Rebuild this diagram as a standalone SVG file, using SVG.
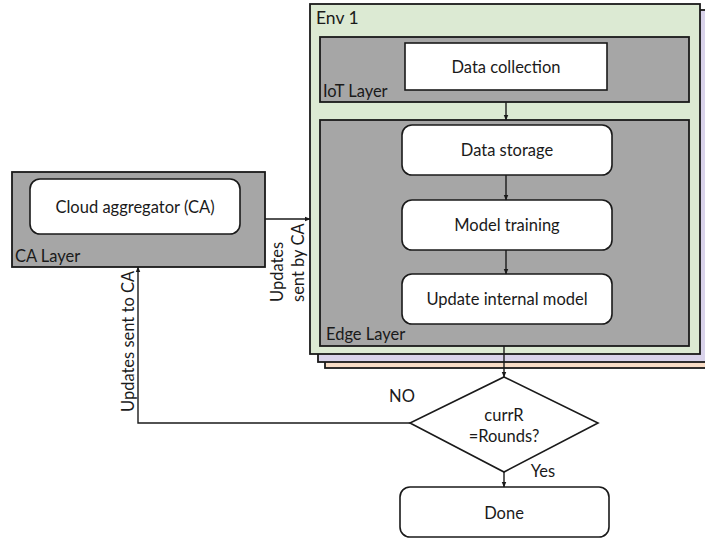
<svg xmlns="http://www.w3.org/2000/svg" width="705" height="540" viewBox="0 0 705 540">
  <style>
    .t { font-family: Lato, "Open Sans", "Liberation Sans", sans-serif; fill: #1a1a1a; font-size: 16.5px; }
    .box { fill: #ffffff; stroke: #1a1a1a; stroke-width: 1.6; }
    .layer { fill: #a6a6a6; stroke: #1a1a1a; stroke-width: 1.8; }
    .env { stroke: #1a1a1a; stroke-width: 1.8; }
    .edge { fill: none; stroke: #1a1a1a; stroke-width: 1.4; }
  </style>
  <defs>
    <marker id="arrow" viewBox="0 0 10 10" refX="9" refY="5" markerWidth="6" markerHeight="6" orient="auto" markerUnits="userSpaceOnUse">
      <path d="M0,1 L10,5 L0,9 z" fill="#1a1a1a"/>
    </marker>
  </defs>
  <rect width="705" height="540" fill="#ffffff"/>

  <!-- stacked environments -->
  <g id="env-stack">
    <rect class="env" x="325" y="16" width="395" height="352" fill="#f8dcc6"/>
    <rect class="env" x="318" y="10" width="395" height="352" fill="#d9d3ea"/>
  </g>
  <g id="env1">
    <rect class="env" x="310" y="4" width="390" height="350" fill="#dcead3"/>
    <text class="t" x="316" y="24" style="font-size:17.5px">Env 1</text>
  </g>

  <g id="iot-layer">
    <rect class="layer" x="320" y="37" width="369" height="65"/>
    <text class="t" x="323" y="97">IoT Layer</text>
  </g>
  <g id="data-collection">
    <rect class="box" x="405" y="43" width="202" height="47"/>
    <text class="t" x="506" y="73" text-anchor="middle">Data collection</text>
  </g>

  <g id="edge-layer">
    <rect class="layer" x="320" y="120" width="369" height="226"/>
    <text class="t" x="326" y="340">Edge Layer</text>
  </g>
  <g id="data-storage">
    <rect class="box" x="402" y="125" width="210" height="50" rx="10"/>
    <text class="t" x="507" y="156" text-anchor="middle">Data storage</text>
  </g>
  <g id="model-training">
    <rect class="box" x="402" y="200" width="210" height="50" rx="10"/>
    <text class="t" x="507" y="231" text-anchor="middle">Model training</text>
  </g>
  <g id="update-model">
    <rect class="box" x="402" y="274" width="210" height="50" rx="10"/>
    <text class="t" x="507" y="305" text-anchor="middle">Update internal model</text>
  </g>

  <g id="ca-layer">
    <rect class="layer" x="12" y="172" width="253" height="95"/>
    <text class="t" x="15" y="262">CA Layer</text>
  </g>
  <g id="cloud-aggregator">
    <rect class="box" x="30" y="179" width="210" height="55" rx="10"/>
    <text class="t" x="135" y="213" text-anchor="middle">Cloud aggregator (CA)</text>
  </g>

  <g id="decision">
    <polygon points="504,377 598,423 504,472 410,423" fill="#ffffff" stroke="#1a1a1a" stroke-width="1.6"/>
    <text class="t" x="504" y="421" text-anchor="middle">currR</text>
    <text class="t" x="504" y="442" text-anchor="middle">=Rounds?</text>
  </g>

  <g id="done">
    <rect class="box" x="400" y="487" width="209" height="50" rx="10"/>
    <text class="t" x="504" y="519" text-anchor="middle">Done</text>
  </g>

  <!-- connectors -->
  <g id="connectors">
    <line class="edge" x1="506" y1="102" x2="506" y2="120" marker-end="url(#arrow)"/>
    <line class="edge" x1="506" y1="175" x2="506" y2="200" marker-end="url(#arrow)"/>
    <line class="edge" x1="506" y1="250" x2="506" y2="274" marker-end="url(#arrow)"/>
    <line class="edge" x1="504" y1="346" x2="504" y2="377" marker-end="url(#arrow)"/>
    <line class="edge" x1="504" y1="472" x2="504" y2="487" marker-end="url(#arrow)"/>
    <line class="edge" x1="265" y1="219" x2="310" y2="219" marker-end="url(#arrow)"/>
    <polyline class="edge" points="410,423 138,423 138,267" marker-end="url(#arrow)"/>
  </g>

  <!-- connector labels -->
  <g id="labels">
    <text class="t" transform="translate(283,302) rotate(-90)">Updates</text>
    <text class="t" transform="translate(304,302) rotate(-90)">sent by CA</text>
    <text class="t" transform="translate(134,412) rotate(-90)">Updates sent to CA</text>
    <text class="t" x="402" y="402" text-anchor="middle">NO</text>
    <text class="t" x="543" y="477" text-anchor="middle">Yes</text>
  </g>
</svg>
